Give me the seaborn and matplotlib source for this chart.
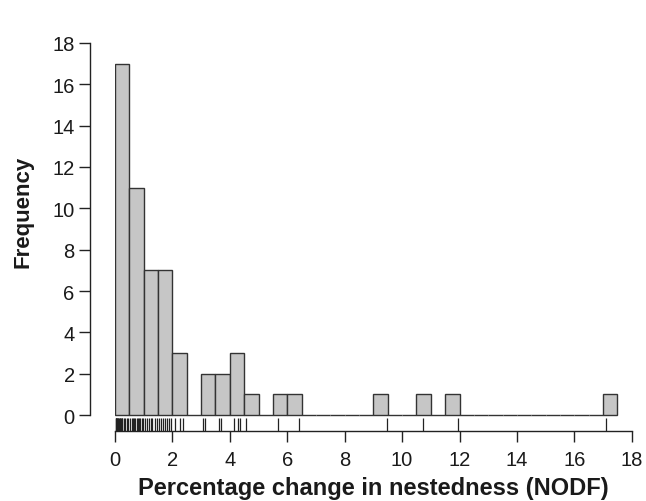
import matplotlib
matplotlib.use("Agg")
import matplotlib.pyplot as plt
import seaborn as sns
import numpy as np
import pandas as pd

# percentage change in NODF, one value per network
bin_0 = [0.02, 0.04, 0.05, 0.07, 0.08, 0.10, 0.12, 0.14, 0.16, 0.18,
         0.20, 0.23, 0.26, 0.30, 0.36, 0.42, 0.47]
bin_1 = [0.52, 0.58, 0.62, 0.66, 0.70, 0.75, 0.80, 0.84, 0.88, 0.93, 0.97]
bin_2 = [1.05, 1.10, 1.18, 1.25, 1.30, 1.38, 1.45]
bin_3 = [1.55, 1.60, 1.68, 1.75, 1.82, 1.88, 1.95]
bin_4 = [2.10, 2.25, 2.38]
tail = [3.07, 3.12, 3.62, 3.70, 4.14, 4.28, 4.35, 4.56, 5.68, 6.42,
        9.47, 10.72, 11.93, 17.10]

values = bin_0 + bin_1 + bin_2 + bin_3 + bin_4 + tail
df = pd.DataFrame({"nodf": values})

sns.set_theme(style="ticks")
plt.rcParams["font.family"] = ["Liberation Sans", "DejaVu Sans"]

fig = plt.figure(figsize=(6.46, 5.02), dpi=100)
ax = fig.add_axes([0.178, 0.1394, 0.8, 0.773])

sns.histplot(data=df, x="nodf", bins=np.arange(0, 17.51, 0.5), ax=ax,
             color="#c6c6c6", edgecolor="#333333", linewidth=1.0, alpha=1)
sns.rugplot(data=df, x="nodf", ax=ax, height=0.034, color="#222222", linewidth=0.9)

ax.set_xlim(0, 18)
ax.set_ylim(-0.774, 18)
ax.set_xticks(range(0, 19, 2))
ax.set_yticks(range(0, 19, 2))
ax.spines["top"].set_visible(False)
ax.spines["right"].set_visible(False)
ax.spines["left"].set_bounds(0, 18)
ax.spines["left"].set_position(("outward", 18))
ax.spines["bottom"].set_bounds(0, 18)
for s in ["left", "bottom"]:
    ax.spines[s].set_color("#222222")
    ax.spines[s].set_linewidth(1.0)
ax.tick_params(axis="both", direction="out", length=8, width=1.0,
               color="#222222", labelsize=14.5, labelcolor="#1a1a1a")
ax.tick_params(axis="x", pad=6)
ax.tick_params(axis="y", pad=3)

ax.set_xlabel("Percentage change in nestedness (NODF)", fontsize=17,
              fontweight="bold", color="#1a1a1a", labelpad=4.5)
ax.set_ylabel("Frequency", fontsize=16, fontweight="bold", color="#1a1a1a")
ax.yaxis.set_label_coords(-0.158, 0.568)

fig.savefig("out.png", dpi=100)
